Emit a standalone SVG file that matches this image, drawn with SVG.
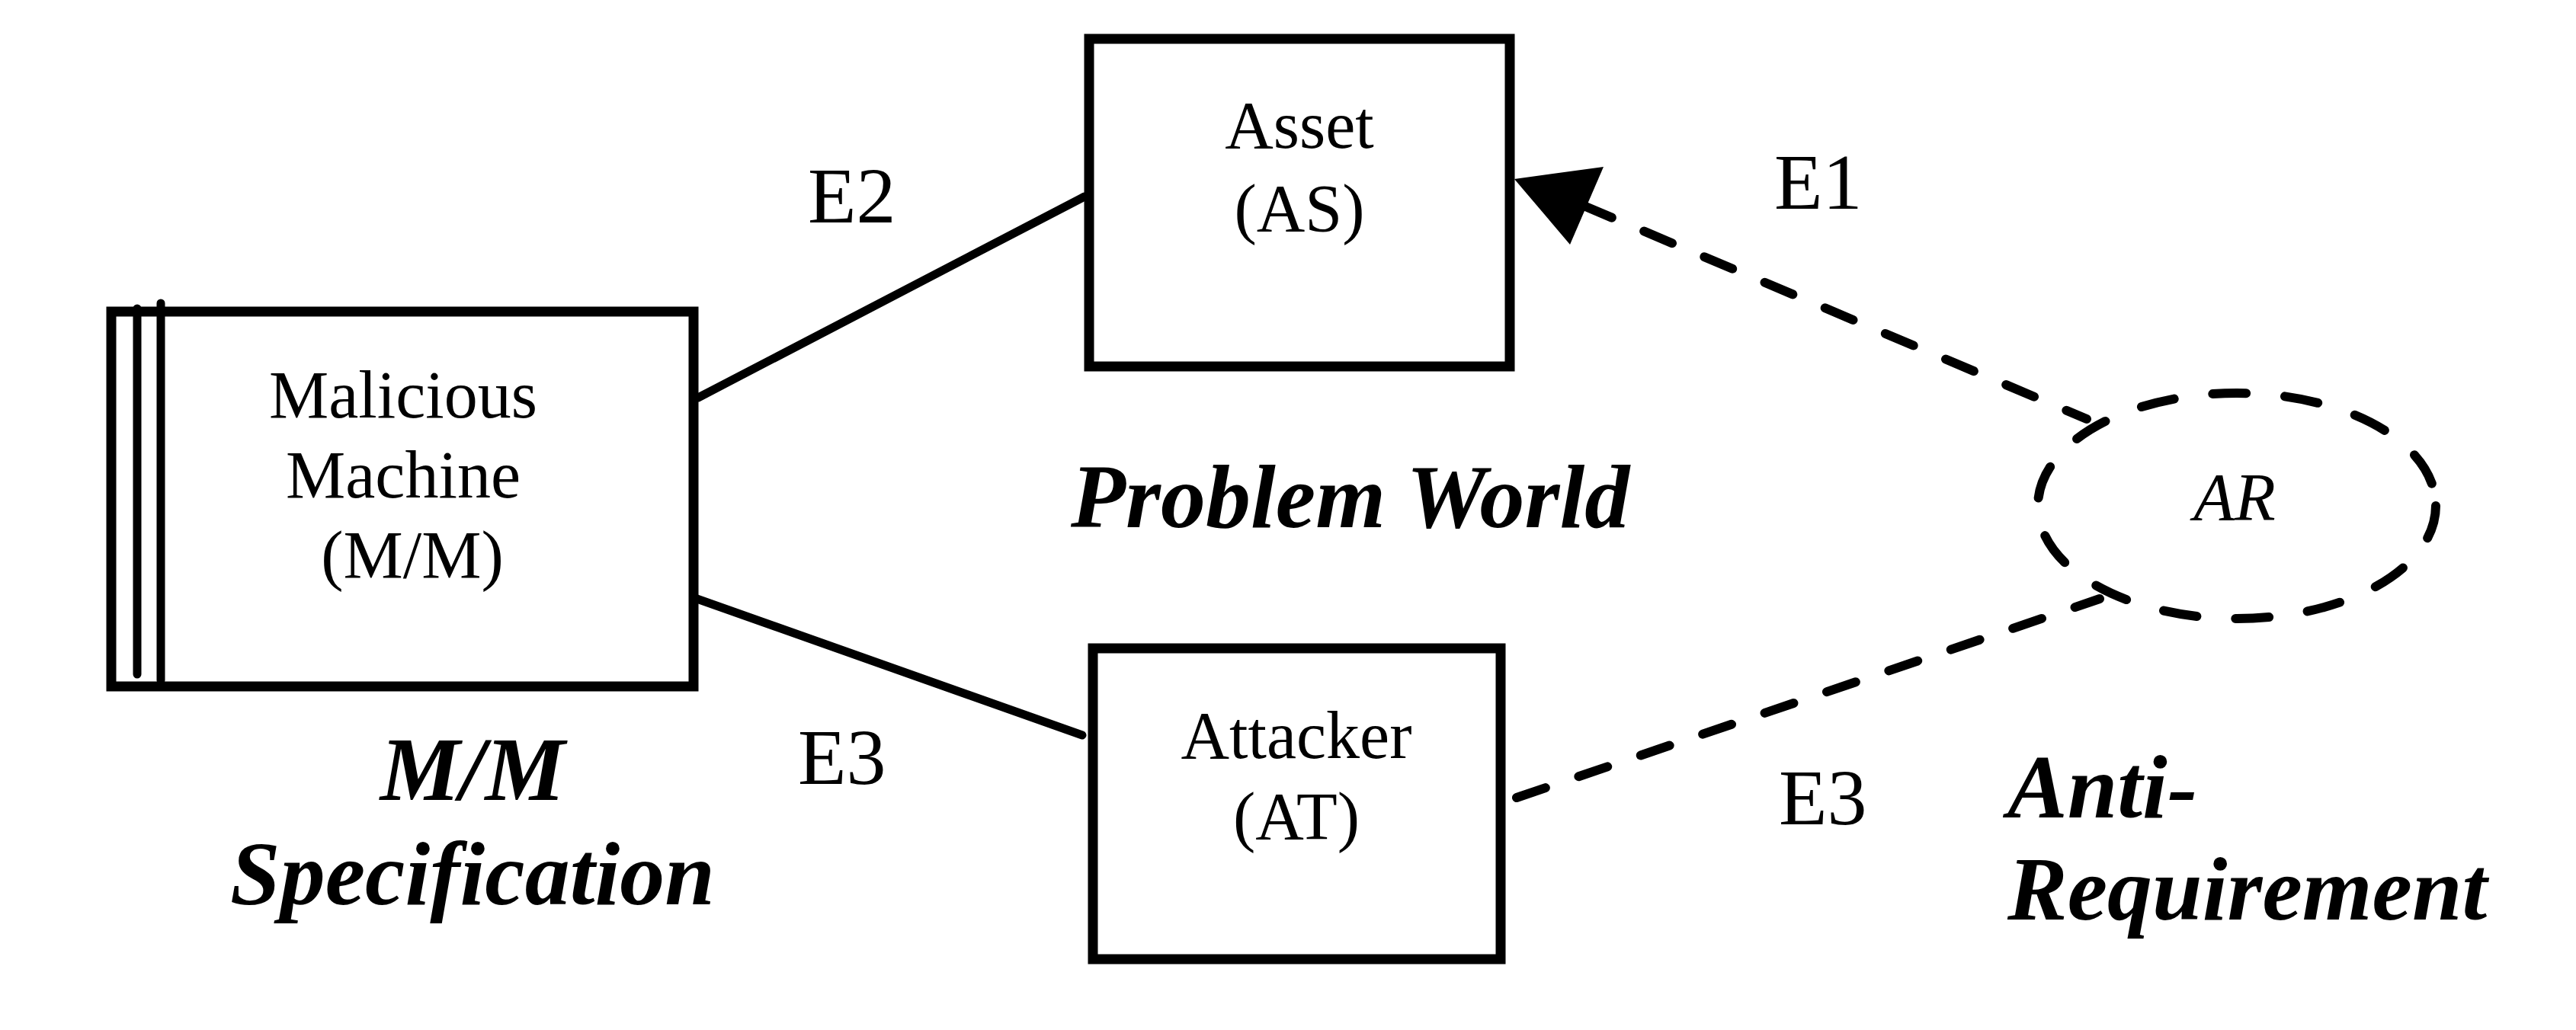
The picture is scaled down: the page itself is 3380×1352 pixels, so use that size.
<svg xmlns="http://www.w3.org/2000/svg" width="3380" height="1352" viewBox="0 0 3380 1352">
<style>
.box{fill:#fff;stroke:#000;stroke-width:13}
.solid{fill:none;stroke:#000;stroke-width:11;stroke-linecap:round}
.dash{fill:none;stroke:#000;stroke-width:12;stroke-linecap:round;stroke-dasharray:40 46}
.dashell{fill:none;stroke:#000;stroke-width:12;stroke-linecap:round;stroke-dasharray:44 51}
.t{font-family:"Liberation Serif","Times New Roman",serif;font-size:88px;fill:#000;text-anchor:middle}
.lbl{font-family:"Liberation Serif","Times New Roman",serif;font-size:104px;fill:#000}
.big{font-family:"Liberation Serif","Times New Roman",serif;font-size:118px;font-weight:bold;font-style:italic;fill:#000}
</style>
<rect width="3380" height="1352" fill="#fff"/>
<g id="connectors">
<line class="solid" x1="916" y1="522" x2="1423" y2="258"/>
<line class="solid" x1="906" y1="783" x2="1420" y2="965"/>
<line class="dash" x1="2078" y1="270" x2="2738" y2="550"/>
<polygon points="1987,235 2104,219 2060,321" fill="#000"/>
<line class="dash" x1="1990" y1="1047" x2="2755" y2="786"/>
</g>
<g id="machine">
<rect class="box" x="146" y="409" width="764" height="492"/>
<line class="solid" x1="180" y1="405" x2="180" y2="885"/>
<line class="solid" x1="211" y1="398" x2="211" y2="893"/>
<text class="t" x="529" y="548">Malicious</text>
<text class="t" x="529" y="653">Machine</text>
<text class="t" x="541" y="758">(M/M)</text>
</g>
<g id="asset">
<rect class="box" x="1429" y="51" width="552" height="430"/>
<text class="t" x="1705" y="194">Asset</text>
<text class="t" x="1705" y="303">(AS)</text>
</g>
<g id="attacker">
<rect class="box" x="1434" y="851" width="535" height="408"/>
<text class="t" x="1701" y="995">Attacker</text>
<text class="t" x="1701" y="1101">(AT)</text>
</g>
<g id="ar">
<ellipse class="dashell" cx="2935" cy="664" rx="261" ry="148"/>
<text class="t" x="2932" y="682" font-style="italic">AR</text>
</g>
<g id="labels">
<text class="lbl" x="1060" y="292">E2</text>
<text class="lbl" x="1047" y="1029">E3</text>
<text class="lbl" x="2328" y="274">E1</text>
<text class="lbl" x="2334" y="1082">E3</text>
<text class="big" x="1405" y="692">Problem World</text>
<text class="big" x="620" y="1050" text-anchor="middle">M/M</text>
<text class="big" x="620" y="1187" text-anchor="middle">Specification</text>
<text class="big" x="2634" y="1073">Anti-</text>
<text class="big" x="2634" y="1207">Requirement</text>
</g>
</svg>
